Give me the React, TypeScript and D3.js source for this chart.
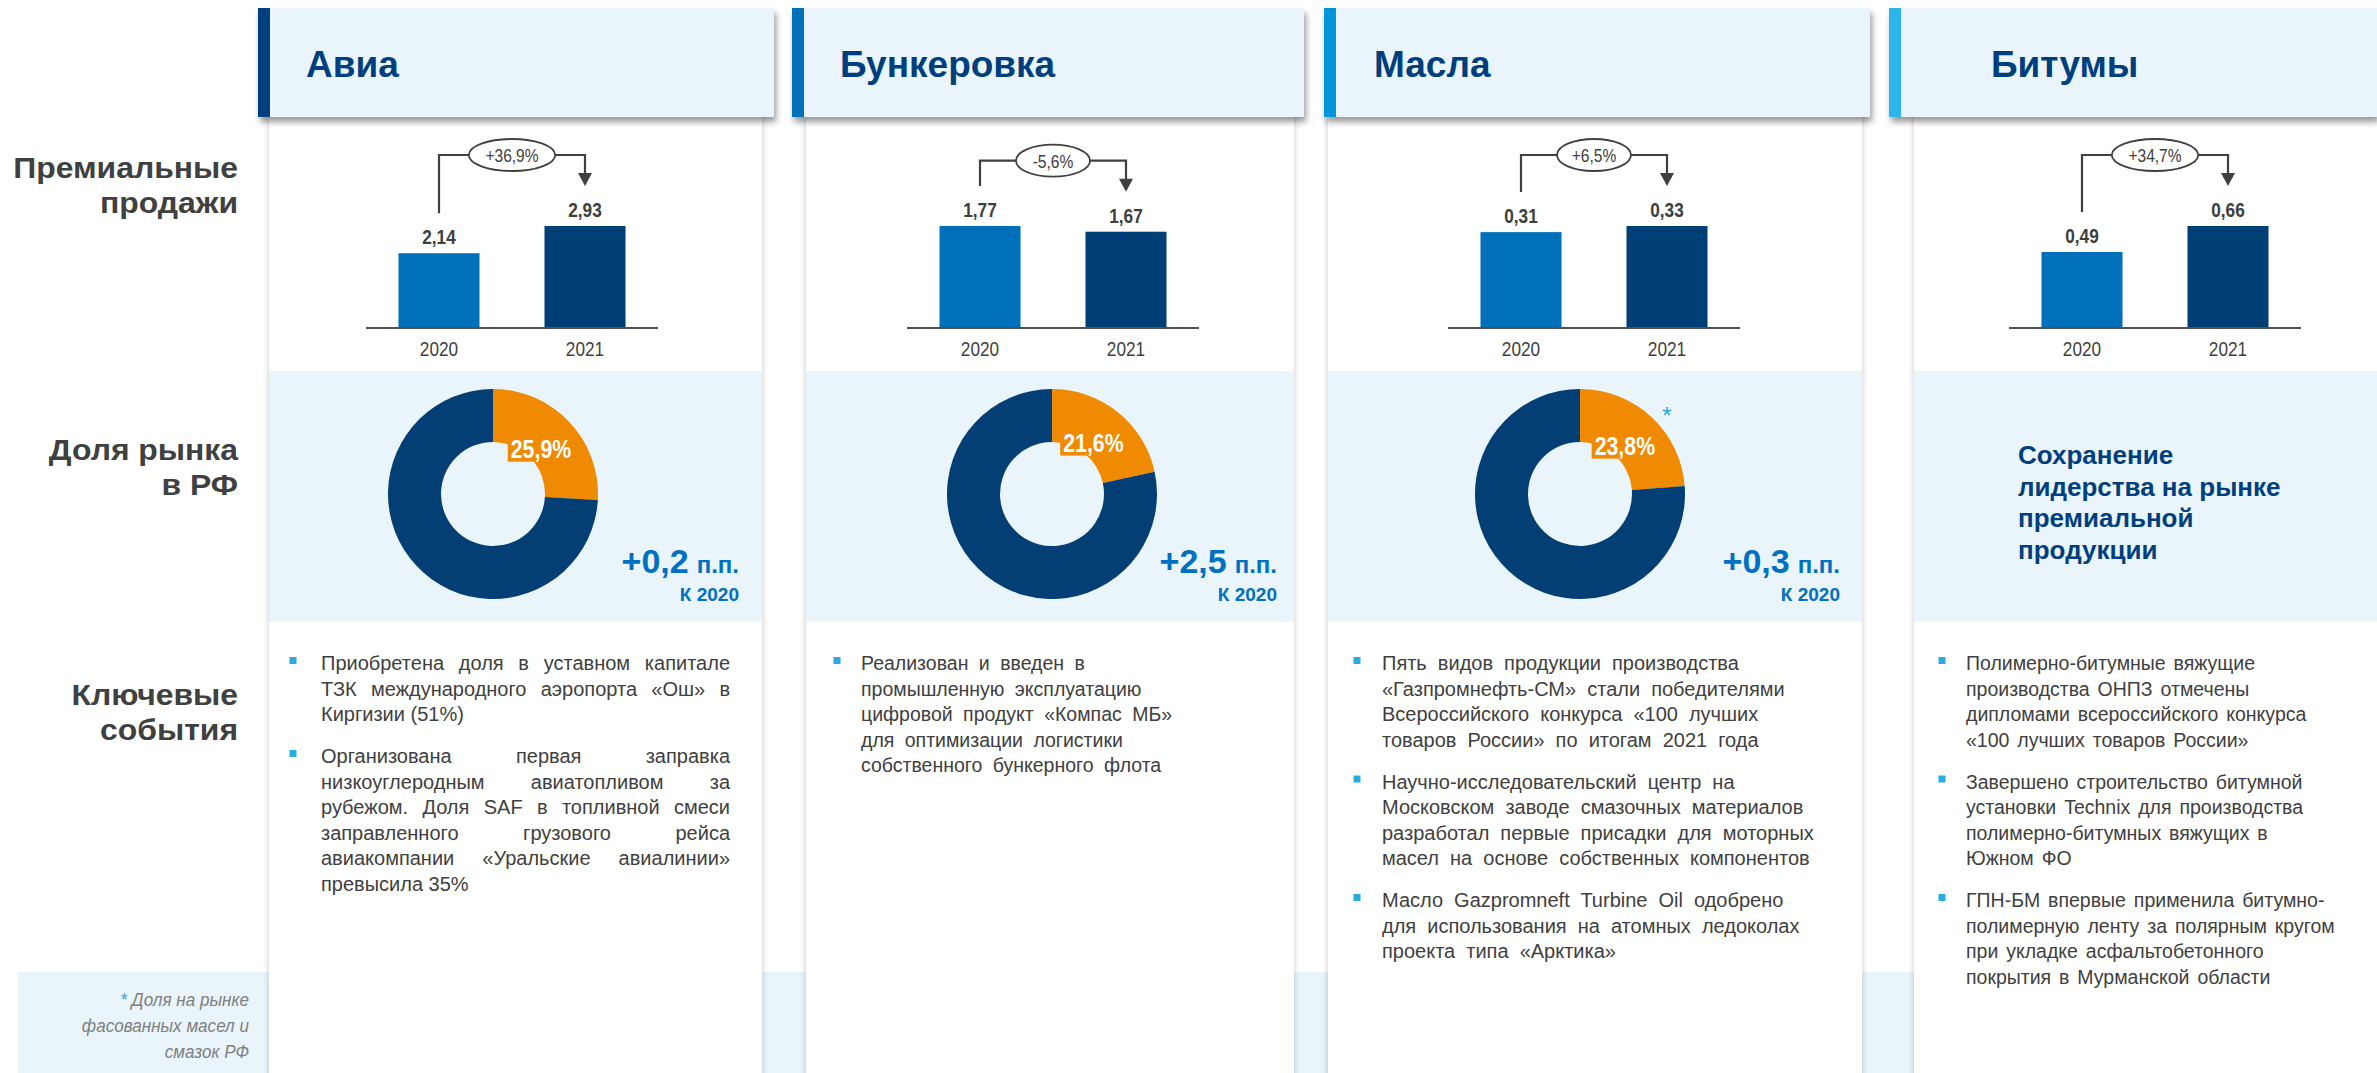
import React from 'react';
import * as d3 from 'd3';

// ---------- DATA ----------
const CATEGORIES = ['Авиа', 'Бункеровка', 'Масла', 'Битумы'];
const YEARS = ['2020', '2021'];
const SALES_2020 = [2.14, 1.77, 0.31, 0.49];
const SALES_2021 = [2.93, 1.67, 0.33, 0.66];
const SALES_CHANGE = ['+36,9%', '-5,6%', '+6,5%', '+34,7%'];
const MARKET_SHARE = [25.9, 21.6, 23.8];
const SHARE_CHANGE = ['+0,2', '+2,5', '+0,3'];
const SHARE_UNIT = 'п.п.';
const SHARE_BASE = 'К 2020';
const ROW_LABELS = [
  ['Премиальные', 'продажи'],
  ['Доля рынка', 'в РФ'],
  ['Ключевые', 'события'],
];
const BITUMEN_NOTE = ['Сохранение', 'лидерства на рынке', 'премиальной', 'продукции'];
const FOOTNOTE = ['Доля на рынке', 'фасованных масел и', 'смазок РФ'];
const EVENTS_AVIA = [
  ['Приобретена доля в уставном капитале', 'ТЗК международного аэропорта «Ош» в', 'Киргизии (51%)'],
  ['Организована первая заправка', 'низкоуглеродным авиатопливом за', 'рубежом. Доля SAF в топливной смеси', 'заправленного грузового рейса', 'авиакомпании «Уральские авиалинии»', 'превысила 35%'],
];
const EVENTS_BUNKER = [
  ['Реализован и введен в', 'промышленную эксплуатацию', 'цифровой продукт «Компас МБ»', 'для оптимизации логистики', 'собственного бункерного флота'],
];
const EVENTS_OILS = [
  ['Пять видов продукции производства', '«Газпромнефть-СМ» стали победителями', 'Всероссийского конкурса «100 лучших', 'товаров России» по итогам 2021 года'],
  ['Научно-исследовательский центр на', 'Московском заводе смазочных материалов', 'разработал первые присадки для моторных', 'масел на основе собственных компонентов'],
  ['Масло Gazpromneft Turbine Oil одобрено', 'для использования на атомных ледоколах', 'проекта типа «Арктика»'],
];
const EVENTS_BITUMEN = [
  ['Полимерно-битумные вяжущие', 'производства ОНПЗ отмечены', 'дипломами всероссийского конкурса', '«100 лучших товаров России»'],
  ['Завершено строительство битумной', 'установки Technix для производства', 'полимерно-битумных вяжущих в', 'Южном ФО'],
  ['ГПН-БМ впервые применила битумно-', 'полимерную ленту за полярным кругом', 'при укладке асфальтобетонного', 'покрытия в Мурманской области'],
];
const EVENTS = [EVENTS_AVIA, EVENTS_BUNKER, EVENTS_OILS, EVENTS_BITUMEN];

// ---------- LAYOUT / STYLE ----------
const W = 2377;
const H = 1073;
const ARIAL = "'Liberation Sans', Arial, sans-serif";
const NARROW_SX = 0.82;
const C = {
  bg: '#e9f4fb',
  text: '#404040',
  navy: '#003f7d',
  bar20: '#0070ba',
  bar21: '#003f75',
  donut: '#033f74',
  orange: '#f08a00',
  blue: '#0070c0',
  bullet: '#29aae1',
};
const COLS = [
  { accent: 258, panelR: 774, bodyL: 269, bodyR: 762, titleX: 306, chartC: 512, donutC: 493, deltaR: 739, bulletX: 293, textX: 321, color: '#003f7d', size: 20, justify: 409, ws: 0 },
  { accent: 792, panelR: 1304, bodyL: 806, bodyR: 1294, titleX: 840, chartC: 1053, donutC: 1052, deltaR: 1277, bulletX: 837, textX: 861, color: '#0070b8', size: 19.5, justify: 0, ws: 5 },
  { accent: 1324, panelR: 1870, bodyL: 1328, bodyR: 1862, titleX: 1374, chartC: 1594, donutC: 1580, deltaR: 1840, bulletX: 1357, textX: 1382, color: '#0095da', size: 20, justify: 0, ws: 5.5 },
  { accent: 1889, panelR: 2377, bodyL: 1914, bodyR: 2377, titleX: 1991, chartC: 2155, donutC: 0, deltaR: 0, bulletX: 1942, textX: 1966, color: '#2db4ea', size: 19.5, justify: 0, ws: 2.5 },
];

let _ctx: CanvasRenderingContext2D | null = null;
function measure(text: string, font: string): number {
  if (!_ctx) _ctx = document.createElement('canvas').getContext('2d');
  if (!_ctx) return text.length * 9;
  _ctx.font = font;
  return _ctx.measureText(text).width;
}

const fmt2 = (v: number) => v.toFixed(2).replace('.', ',');
const fmt1 = (v: number) => v.toFixed(1).replace('.', ',') + '%';

// condensed text: regular font squeezed horizontally
function NText({ x, y, sx = NARROW_SX, children, ...rest }: any) {
  return (
    <text transform={`translate(${x},${y}) scale(${sx},1)`} fontFamily={ARIAL} {...rest}>{children}</text>
  );
}

function BarChart({ i }: { i: number }) {
  const col = COLS[i];
  const vals = [SALES_2020[i], SALES_2021[i]];
  const baseY = 327;
  const y = d3.scaleLinear().domain([0, d3.max(vals) as number]).range([baseY, 226]);
  const x = d3.scaleBand<string>().domain(YEARS).range([col.chartC - 146, col.chartC + 146]).paddingInner(0.445).paddingOuter(0.2225);
  const cx = (yr: string) => (x(yr) as number) + x.bandwidth() / 2;
  const tip = y(vals[1]) - 40;
  const top = tip - 31;
  const start = y(vals[0]) - 40;
  const x1 = cx(YEARS[0]);
  const x2 = cx(YEARS[1]);
  const mid = (x1 + x2) / 2;
  const label = SALES_CHANGE[i];
  const rx = 6 + label.length * 6.2;
  return (
    <g>
      {YEARS.map((yr, k) => (
        <rect key={yr} x={x(yr)} y={y(vals[k])} width={x.bandwidth()} height={baseY - y(vals[k])} fill={k === 0 ? C.bar20 : C.bar21} />
      ))}
      <line x1={col.chartC - 146} x2={col.chartC + 146} y1={baseY + 1} y2={baseY + 1} stroke="#505050" strokeWidth={2} />
      {YEARS.map((yr, k) => (
        <g key={'l' + yr}>
          <NText x={cx(yr)} y={y(vals[k]) - 9} textAnchor="middle" fontWeight="bold" fontSize={21} fill={C.text}>{fmt2(vals[k])}</NText>
          <NText x={cx(yr)} y={356} textAnchor="middle" fontSize={21} fill={C.text}>{yr}</NText>
        </g>
      ))}
      <path d={`M${x1},${start}V${top}H${x2}V${tip - 12}`} fill="none" stroke="#404040" strokeWidth={2.2} />
      <path d={`M${x2 - 7},${tip - 13}L${x2 + 7},${tip - 13}L${x2},${tip}Z`} fill="#404040" />
      <ellipse cx={mid} cy={top} rx={rx} ry={16} fill="#fff" stroke="#404040" strokeWidth={1.8} />
      <NText x={mid} y={top + 7} textAnchor="middle" fontSize={19} fill={C.text}>{label}</NText>
    </g>
  );
}

function Donut({ i }: { i: number }) {
  const col = COLS[i];
  const share = MARKET_SHARE[i];
  const cx = col.donutC;
  const cy = 494;
  const pie = d3.pie<number>().sort(null).value((d) => d);
  const arcs = pie([share, 100 - share]);
  const arc = d3.arc<d3.PieArcDatum<number>>().innerRadius(52).outerRadius(105);
  const a0 = arcs[0];
  const midA = (a0.startAngle + a0.endAngle) / 2;
  const lx = cx + 66 * Math.sin(midA);
  const ly = cy - 66 * Math.cos(midA);
  const lbl = fmt1(share);
  const lw = measure(lbl, `bold 26px ${ARIAL}`) * NARROW_SX + 6;
  return (
    <g>
      <g transform={`translate(${cx},${cy})`}>
        {arcs.map((a, k) => (
          <path key={k} d={arc(a) as string} fill={k === 0 ? C.orange : C.donut} />
        ))}
      </g>
      <rect x={lx - lw / 2} y={ly - 13} width={lw} height={26} fill={C.orange} />
      <NText x={lx} y={ly + 9.5} textAnchor="middle" fontWeight="bold" fontSize={26} fill="#fff">{lbl}</NText>
      {i === 2 && (
        <text x={cx + 87} y={424} textAnchor="middle" fontFamily={ARIAL} fontSize={24} fill={C.bullet}>*</text>
      )}
      <text x={col.deltaR} y={573} textAnchor="end" fill={C.blue} fontFamily={ARIAL} fontWeight="bold">
        <tspan fontSize={34}>{SHARE_CHANGE[i]}</tspan>
        <tspan fontSize={24} dx={8}>{SHARE_UNIT}</tspan>
      </text>
      <text x={col.deltaR} y={601} textAnchor="end" fill={C.blue} fontFamily={ARIAL} fontWeight="bold" fontSize={19}>{SHARE_BASE}</text>
    </g>
  );
}

function Events({ i }: { i: number }) {
  const col = COLS[i];
  const paras = EVENTS[i];
  const lh = 25.5;
  const gap = 16.5;
  const fontStr = `${col.size}px ${ARIAL}`;
  let yy = 670;
  const out: any[] = [];
  paras.forEach((lines, p) => {
    out.push(<rect key={'b' + p} x={col.bulletX - 3.5} y={yy - 13} width={7} height={7} fill={C.bullet} />);
    lines.forEach((ln, k) => {
      let ws = col.ws;
      if (col.justify && k < lines.length - 1) {
        const spaces = (ln.match(/ /g) || []).length;
        const w = measure(ln, fontStr);
        ws = spaces ? (col.justify - w) / spaces : 0;
      }
      out.push(
        <text key={p + '-' + k} x={col.textX} y={yy} fontFamily={ARIAL} fontSize={col.size} fill={C.text} style={{ wordSpacing: ws + 'px' }}>{ln}</text>
      );
      yy += lh;
    });
    yy += gap;
  });
  return <g>{out}</g>;
}

export default function App() {
  return (
    <svg width={W} height={H} viewBox={`0 0 ${W} ${H}`} style={{ position: 'absolute', left: 0, top: 0, background: '#fff' }}>
      <defs>
        <filter id="bodyShadow" x="-5%" y="-5%" width="110%" height="110%">
          <feDropShadow dx={0} dy={0} stdDeviation={3} floodColor="#000" floodOpacity={0.22} />
        </filter>
        <filter id="headShadow" x="-5%" y="-10%" width="110%" height="140%">
          <feDropShadow dx={2} dy={5} stdDeviation={3} floodColor="#000" floodOpacity={0.4} />
        </filter>
      </defs>
      <rect x={0} y={0} width={W} height={H} fill="#fff" />
      {/* bottom band */}
      <rect x={18} y={972} width={W - 18} height={H - 972} fill={C.bg} />

      {/* column bodies */}
      {COLS.map((col, i) => (
        <g key={'body' + i}>
          <rect x={col.bodyL} y={110} width={col.bodyR - col.bodyL} height={H - 110 + 10} fill="#fff" filter="url(#bodyShadow)" />
          <rect x={col.bodyL} y={371} width={col.bodyR - col.bodyL} height={622 - 371} fill={C.bg} />
        </g>
      ))}

      {/* headers */}
      {COLS.map((col, i) => (
        <g key={'head' + i}>
          <g filter="url(#headShadow)">
            <rect x={col.accent} y={8} width={col.panelR - col.accent} height={109} fill={C.bg} />
          </g>
          <rect x={col.accent} y={8} width={12} height={109} fill={col.color} />
          <text x={col.titleX} y={77} fontFamily={ARIAL} fontWeight="bold" fontSize={37} fill={C.navy}>{CATEGORIES[i]}</text>
        </g>
      ))}

      {/* row labels */}
      {[[178, 213], [460, 495], [705, 740]].map((ys, r) => (
        <g key={'row' + r}>
          {ROW_LABELS[r].map((t, k) => (
            <text key={k} transform={`translate(238,${ys[k]}) scale(1.1,1)`} textAnchor="end" fontFamily={ARIAL} fontWeight="bold" fontSize={29} fill={C.text}>{t}</text>
          ))}
        </g>
      ))}

      {/* bar charts */}
      {CATEGORIES.map((_, i) => <BarChart key={'bc' + i} i={i} />)}

      {/* donuts */}
      {MARKET_SHARE.map((_, i) => <Donut key={'dn' + i} i={i} />)}

      {/* bitumen note */}
      {BITUMEN_NOTE.map((t, k) => (
        <text key={'bn' + k} x={2018} y={464 + k * 31.5} fontFamily={ARIAL} fontWeight="bold" fontSize={26} fill={C.navy}>{t}</text>
      ))}

      {/* events */}
      {CATEGORIES.map((_, i) => <Events key={'ev' + i} i={i} />)}

      {/* footnote */}
      {FOOTNOTE.map((t, k) => (
        <NText key={'fn' + k} x={249} y={1006 + k * 26} sx={0.9} textAnchor="end" fontStyle="italic" fontSize={19} fill="#808080">
          {k === 0 && <tspan fill={C.bullet}>* </tspan>}
          {t}
        </NText>
      ))}
    </svg>
  );
}
